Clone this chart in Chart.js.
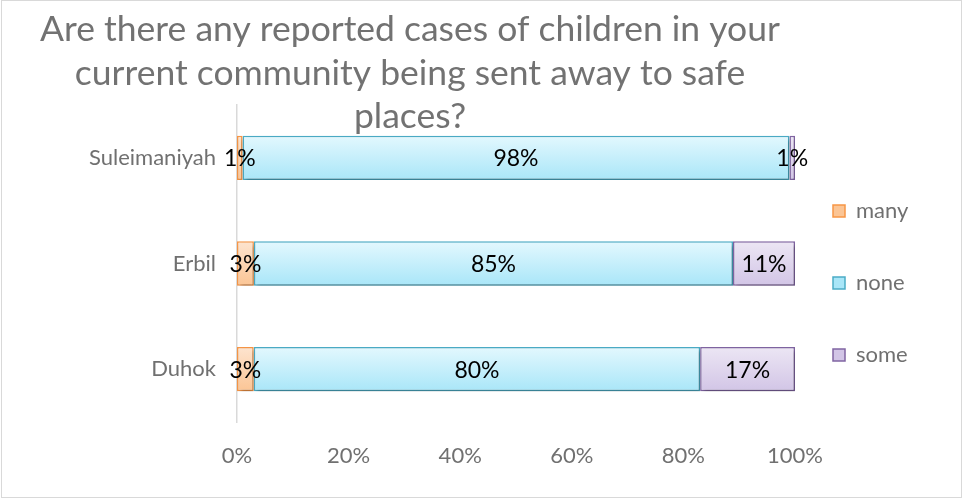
<!DOCTYPE html>
<html>
<head>
<meta charset="utf-8">
<script src="https://cdn.jsdelivr.net/npm/chart.js@4"></script>
<style>
  html, body { margin: 0; padding: 0; background: #fff; }
  canvas { display: block; }
</style>
</head>
<body>
<canvas id="chart" width="963" height="499"></canvas>
<script>
const categories = ['Suleimaniyah', 'Erbil', 'Duhok']
const many = [1, 3, 3]
const none = [98, 85, 80]
const some = [1, 11, 17]
const seriesNames = ['many', 'none', 'some']
const xTicks = ['0%', '20%', '40%', '60%', '80%', '100%']
const titleLines = [
  'Are there any reported cases of children in your',
  'current community being sent away to safe',
  'places?',
]

const FONT = 'Lato, "Open Sans", sans-serif'
const GREY = '#707070'
const LEGEND_PAD = 50
const LEGEND_SIZE = 22

// Excel draws this as a 100% stacked bar, so each row is scaled to its total
const totals = categories.map((_, i) => many[i] + none[i] + some[i])
const share = (arr) => arr.map((v, i) => (v / totals[i]) * 100)

// keep the plot's right edge at x=795 whatever the legend text measures
const mctx = document.createElement('canvas').getContext('2d')
mctx.font = LEGEND_SIZE + 'px ' + FONT
const legendTextW = Math.max(...seriesNames.map((n) => mctx.measureText(n).width))
const legendW = LEGEND_PAD + 12 + LEGEND_SIZE / 2 + legendTextW + 10
const padRight = Math.max(0, 963 - 795 - legendW)

function barGradient(top, bottom, fallback) {
  return (ctx) => {
    const chart = ctx.chart
    const y = chart.scales && chart.scales.y
    if (ctx.dataIndex === undefined || !chart.chartArea || !y) return fallback
    const c = y.getPixelForValue(ctx.dataIndex)
    const half = y.height / categories.length * 0.21
    const g = chart.ctx.createLinearGradient(0, c - half, 0, c + half)
    g.addColorStop(0, top)
    g.addColorStop(1, bottom)
    return g
  }
}

const titlePlugin = {
  id: 'sheetTitle',
  afterLayout(chart) {
    // legend sits closer to the plot than Chart.js would put it
    const lg = chart.legend
    const dx = 833 - LEGEND_PAD - lg.left
    lg.left += dx
    lg.right += dx
    lg.top -= 19
    lg.bottom -= 19
  },
  beforeDatasetsDraw(chart) {
    chart.ctx.save()
    chart.ctx.shadowColor = 'rgba(0,0,0,0.28)'
    chart.ctx.shadowBlur = 4
    chart.ctx.shadowOffsetX = 2
    chart.ctx.shadowOffsetY = 3
  },
  afterDatasetsDraw(chart) {
    chart.ctx.restore()
    const { ctx } = chart
    ctx.save()
    ctx.font = '23px ' + FONT
    ctx.fillStyle = '#000'
    ctx.textAlign = 'center'
    ctx.textBaseline = 'middle'
    chart.data.datasets.forEach((ds, di) => {
      const meta = chart.getDatasetMeta(di)
      meta.data.forEach((bar, i) => {
        const cx = (bar.x + bar.base) / 2
        ctx.fillText(ds.labelsRaw[i] + '%', cx, bar.y + 1)
      })
    })
    ctx.restore()
  },
  afterDraw(chart) {
    const { ctx } = chart
    ctx.save()
    ctx.font = '35.5px ' + FONT
    ctx.fillStyle = '#727272'
    ctx.textAlign = 'center'
    ctx.textBaseline = 'alphabetic'
    titleLines.forEach((t, i) => ctx.fillText(t, 410, 41 + i * 43.5))
    ctx.strokeStyle = '#d9d9d9'
    ctx.lineWidth = 1
    ctx.strokeRect(1.5, 0.5, 960, 497)
    ctx.restore()
  },
}

new Chart(document.getElementById('chart'), {
  type: 'bar',
  data: {
    labels: categories,
    datasets: [
      {
        label: seriesNames[0],
        data: share(many),
        labelsRaw: many,
        backgroundColor: barGradient('#fde4cf', '#fbc595', '#fcd5b5'),
        borderColor: '#f79646',
      },
      {
        label: seriesNames[1],
        data: share(none),
        labelsRaw: none,
        backgroundColor: barGradient('#e3f8fe', '#a9e6f8', '#c6effb'),
        borderColor: '#4bacc6',
      },
      {
        label: seriesNames[2],
        data: share(some),
        labelsRaw: some,
        backgroundColor: barGradient('#ece6f4', '#d2c5e6', '#e0d6ee'),
        borderColor: '#8064a2',
      },
    ],
  },
  options: {
    indexAxis: 'y',
    responsive: false,
    animation: false,
    devicePixelRatio: 1,
    datasets: {
      bar: {
        borderWidth: 1.5,
        borderSkipped: false,
        categoryPercentage: 1,
        barPercentage: 0.42,
      },
    },
    layout: { padding: { top: 105, right: padRight, bottom: 0, left: 0 } },
    scales: {
      x: {
        stacked: true,
        min: 0,
        max: 100,
        ticks: {
          stepSize: 20,
          padding: 21,
          color: GREY,
          font: { family: FONT, size: 22 },
          callback: (v, i) => xTicks[i],
        },
        grid: { display: false, drawTicks: false },
        border: { display: false },
        afterFit: (s) => { s.height = 77 },
      },
      y: {
        stacked: true,
        ticks: {
          padding: 21,
          color: GREY,
          font: { family: FONT, size: 22 },
        },
        grid: { display: false, drawTicks: false },
        border: { display: true, color: '#d9d9d9', width: 1.5 },
        afterFit: (s) => { s.width = 237 },
      },
    },
    plugins: {
      legend: {
        position: 'right',
        labels: {
          boxWidth: 12,
          boxHeight: 12,
          padding: LEGEND_PAD,
          color: GREY,
          font: { family: FONT, size: LEGEND_SIZE },
        },
      },
      tooltip: { enabled: false },
    },
  },
  plugins: [titlePlugin],
})
</script>
</body>
</html>
